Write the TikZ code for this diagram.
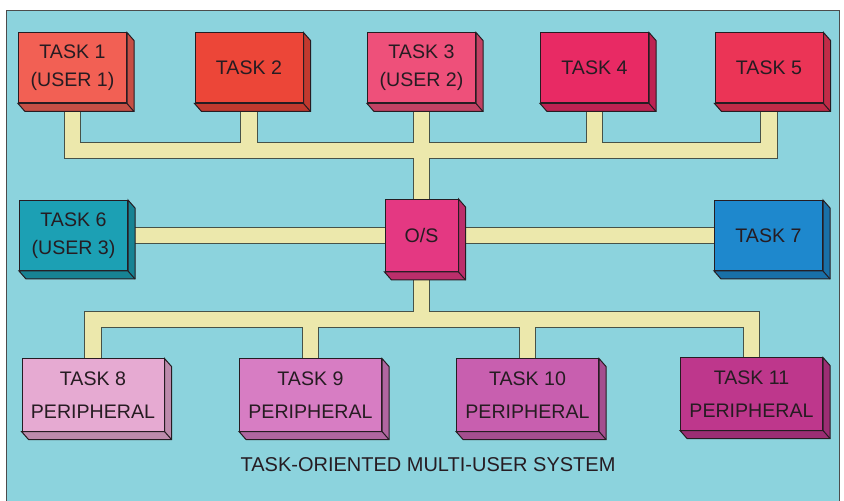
\documentclass[tikz,border=0pt]{standalone}
\usepackage{fontspec}
\setmainfont{Liberation Sans}
\usetikzlibrary{calc}

\definecolor{panelblue}{RGB}{140,211,221}
\definecolor{busyellow}{RGB}{236,232,172}
\definecolor{busline}{RGB}{70,82,72}
\definecolor{inkdark}{RGB}{38,28,34}
\definecolor{taskA}{RGB}{242,96,84}
\definecolor{taskB}{RGB}{236,70,56}
\definecolor{taskC}{RGB}{238,80,122}
\definecolor{taskD}{RGB}{232,42,100}
\definecolor{taskE}{RGB}{235,52,86}
\definecolor{osred}{RGB}{228,56,130}
\definecolor{taskF}{RGB}{28,160,180}
\definecolor{taskG}{RGB}{30,136,205}
\definecolor{taskH}{RGB}{230,170,210}
\definecolor{taskI}{RGB}{215,125,195}
\definecolor{taskJ}{RGB}{200,95,175}
\definecolor{taskK}{RGB}{190,55,140}

\pgfdeclarelayer{back}
\pgfdeclarelayer{wires}
\pgfsetlayers{back,wires,main}

\begin{document}
\begin{tikzpicture}[
    x=0.5pt, y=-0.5pt,
    task/.style={draw=inkdark, line width=0.5pt, rectangle, minimum width=54pt, minimum height=35pt, align=center, inner sep=0pt, text=inkdark, font=\fontsize{9.8}{14}\selectfont},
    periph/.style={task, minimum width=71pt, minimum height=36pt, font=\fontsize{9.8}{16.5}\selectfont},
    osbox/.style={task, minimum width=36.5pt, minimum height=36pt},
    busedge/.style={draw=busline, line width=8.8pt},
    busfill/.style={draw=busyellow, line width=7.8pt},
    caption/.style={font=\fontsize{10}{12}\selectfont, text=inkdark}
]
    \useasboundingbox (0,0) rectangle (844,501);

    % --- Panel ---
    \begin{pgfonlayer}{back}
    \fill[panelblue] (6,10) rectangle (839,501);
    \draw[gray!60!black, line width=0.4pt] (6,501) -- (6,10) -- (839,10) -- (839,501);
    \end{pgfonlayer}

    % --- User / task boxes, top row ---
    \node[task, fill=taskA] (t1) at (72.5,68) {TASK 1\\(USER 1)};
    \node[task, fill=taskB] (t2) at (249,68) {TASK 2};
    \node[task, fill=taskC] (t3) at (421.5,68) {TASK 3\\(USER 2)};
    \node[task, fill=taskD] (t4) at (594.5,68) {TASK 4};
    \node[task, fill=taskE] (t5) at (769,68) {TASK 5};

    % --- Middle row ---
    \node[task, fill=taskF] (t6) at (73.5,235.5) {TASK 6\\(USER 3)};
    \node[osbox, fill=osred] (os) at (421.5,235.5) {O/S};
    \node[task, fill=taskG] (t7) at (768.5,235.5) {TASK 7};

    % --- Peripherals ---
    \node[periph, fill=taskH] (t8) at (93,395) {TASK 8\\PERIPHERAL};
    \node[periph, fill=taskI] (t9) at (310.5,395) {TASK 9\\PERIPHERAL};
    \node[periph, fill=taskJ] (t10) at (527.5,395) {TASK 10\\PERIPHERAL};
    \node[periph, fill=taskK] (t11) at (751.5,394) {TASK 11\\PERIPHERAL};

    % --- Box depth (side and bottom faces) ---
    \foreach \n/\c in {t1/taskA, t2/taskB, t3/taskC, t4/taskD, t5/taskE, t6/taskF, os/osred, t7/taskG, t8/taskH, t9/taskI, t10/taskJ, t11/taskK} {
        \filldraw[fill=\c!82!black, draw=inkdark, line width=0.5pt] (\n.south west) -- ++(7,8) -| ($(\n.north east)+(7,8)$) -- (\n.north east) |- (\n.south west) -- cycle;
        \draw[inkdark, line width=0.5pt] (\n.south east) -- ++(7,8);
    }

    % --- Buses ---
    \begin{pgfonlayer}{wires}
    \coordinate (tb) at (t3.south |- 0,150.5);
    \coordinate (bb) at (os.south |- 0,319.5);
    \foreach \s in {busedge, busfill} {
        % top bus to O/S
        \foreach \n in {t1, t2, t4, t5}
            \draw[\s] (\n.south) |- (tb);
        \draw[\s] (t3.south) -- (tb) -- (os.north);
        % side tasks
        \draw[\s] (t6.east) -- (os.west);
        \draw[\s] (os.east) -- (t7.west);
        % peripheral bus
        \draw[\s] (os.south) -- (bb);
        \foreach \n in {t8, t9, t10, t11}
            \draw[\s] (bb) -| (\n.north);
    }
    \end{pgfonlayer}

    % --- Caption ---
    \node[caption] (title) at (428,465) {TASK-ORIENTED MULTI-USER SYSTEM};

\end{tikzpicture}
\end{document}
